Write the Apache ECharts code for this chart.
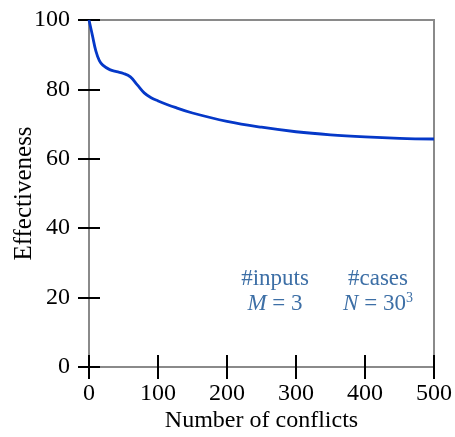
<!DOCTYPE html>
<html>
<head>
<meta charset="utf-8">
<script src="https://cdn.jsdelivr.net/npm/echarts@6/dist/echarts.min.js"></script>
<style>
  html, body { margin: 0; padding: 0; background: #fff; }
  #chart { width: 455px; height: 437px; }
</style>
</head>
<body>
<div id="chart"></div>
<script>
// conflicts vs effectiveness
var conflicts = [0, 5, 10, 15, 20, 30, 40, 50, 60, 70, 80, 90, 100, 125, 150, 200, 250, 300, 350, 400, 450, 500];
var effectiveness = [100, 95.5, 91, 88.3, 87, 85.7, 85.1, 84.6, 83.6, 81.3, 79, 77.6, 76.7, 74.8, 73.2, 70.8, 69.1, 67.8, 66.9, 66.3, 65.9, 65.7];
var xTicks = [0, 100, 200, 300, 400, 500];
var yTicks = [0, 20, 40, 60, 80, 100];

var font = '"Liberation Serif", "DejaVu Serif", serif';
var noteColor = '#3d6fa6';

var myChart = echarts.init(document.getElementById('chart'));

var lineData = [];
for (var i = 0; i < conflicts.length; i++) {
    lineData.push([conflicts[i], effectiveness[i]]);
}

var tickStyle = { color: '#000', width: 2 };
var option = {
    animation: false,
    grid: {
        left: 89, right: 21, top: 20, bottom: 70,
        outerBoundsMode: 'none',
        show: true, borderColor: '#8a8a8a', borderWidth: 2
    },
    xAxis: [
        {
            type: 'value', min: xTicks[0], max: xTicks[xTicks.length - 1], interval: 100,
            name: 'Number of conflicts', nameLocation: 'middle', nameGap: 42, nameMoveOverlap: false,
            nameTextStyle: { fontFamily: font, fontSize: 24, color: '#000' },
            axisLine: { show: true, lineStyle: { color: '#8a8a8a', width: 2 } },
            axisTick: { show: true, length: 12, lineStyle: tickStyle },
            axisLabel: { fontFamily: font, fontSize: 24, color: '#000', margin: 15 },
            splitLine: { show: false }
        },
        {
            // inward half of the ticks
            type: 'value', position: 'bottom', min: 0, max: 500, interval: 100,
            axisLine: { show: false },
            axisTick: { show: true, inside: true, length: 12, lineStyle: tickStyle },
            axisLabel: { show: false },
            splitLine: { show: false }
        }
    ],
    yAxis: [
        {
            type: 'value', min: yTicks[0], max: yTicks[yTicks.length - 1], interval: 20,
            name: 'Effectiveness', nameLocation: 'middle', nameGap: 52, nameMoveOverlap: false,
            nameTextStyle: { fontFamily: font, fontSize: 25, color: '#000' },
            axisLine: { show: true, lineStyle: { color: '#8a8a8a', width: 2 } },
            axisTick: { show: true, length: 11, lineStyle: tickStyle },
            axisLabel: { fontFamily: font, fontSize: 24, color: '#000', margin: 19 },
            splitLine: { show: false }
        },
        {
            type: 'value', position: 'left', min: 0, max: 100, interval: 20,
            axisLine: { show: false },
            axisTick: { show: true, inside: true, length: 11, lineStyle: tickStyle },
            axisLabel: { show: false },
            splitLine: { show: false }
        }
    ],
    series: [
        {
            type: 'line',
            data: lineData,
            smooth: 0.4,
            symbol: 'none',
            lineStyle: { color: '#0538c8', width: 2.8 }
        }
    ],
    graphic: [
        {
            type: 'text', x: 275, y: 291,
            style: {
                text: '#inputs\n{i|M} = 3', fill: noteColor, font: '23px ' + font,
                align: 'center', verticalAlign: 'middle', lineHeight: 25,
                rich: { i: { fontStyle: 'italic', fontFamily: font, fontSize: 23, fill: noteColor } }
            }
        },
        {
            type: 'text', x: 378, y: 291,
            style: {
                text: '#cases\n{i|N} = 30{s|3}', fill: noteColor, font: '23px ' + font,
                align: 'center', verticalAlign: 'middle', lineHeight: 25,
                rich: {
                    i: { fontStyle: 'italic', fontFamily: font, fontSize: 23, fill: noteColor },
                    s: { fontFamily: font, fontSize: 14, fill: noteColor, verticalAlign: 'top', padding: [0, 0, 14, 0] }
                }
            }
        }
    ]
};
myChart.setOption(option);
</script>
</body>
</html>
